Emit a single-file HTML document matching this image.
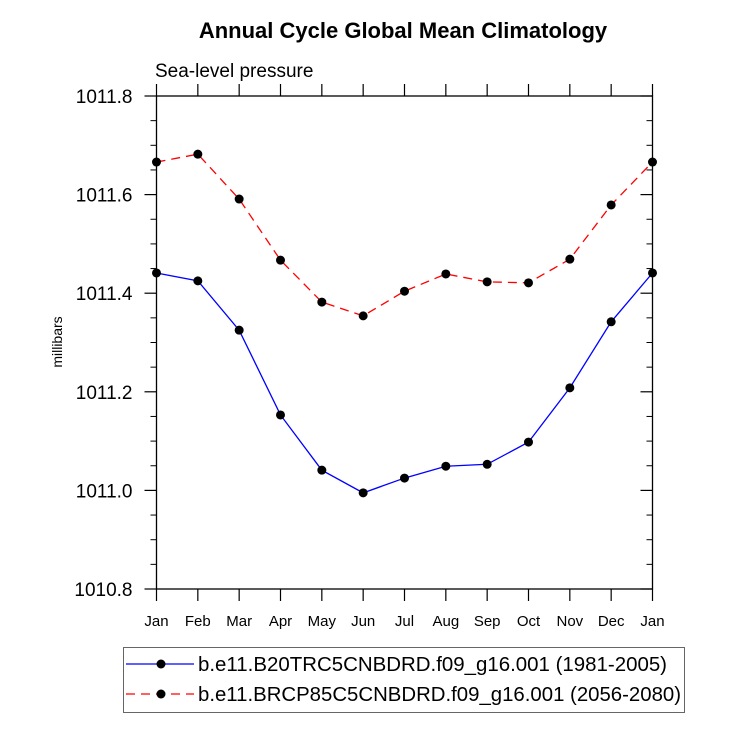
<!DOCTYPE html>
<html><head><meta charset="utf-8"><style>
body{margin:0;background:#fff;}
svg{display:block;font-family:"Liberation Sans",sans-serif;}
</style></head><body>
<svg id="c" width="732" height="732">
<text x="403" y="38" text-anchor="middle" font-size="22" font-weight="bold">Annual Cycle Global Mean Climatology</text>
<text x="155" y="77" font-size="19">Sea-level pressure</text>
<text transform="translate(62,342) rotate(-90)" text-anchor="middle" font-size="14">millibars</text>
<g id="axes"></g>
<g id="series"></g>
<rect x="123.5" y="647.5" width="561" height="65" fill="none" stroke="#666" stroke-width="1"/>
<g>
<line x1="126" y1="664" x2="194" y2="664" stroke="#0000ff" stroke-width="1.3"/>
<circle cx="161" cy="664" r="4.5" fill="#000"/>
<text x="198" y="671" font-size="20" textLength="469" lengthAdjust="spacingAndGlyphs">b.e11.B20TRC5CNBDRD.f09_g16.001 (1981-2005)</text>
</g>
<g>
<line x1="126" y1="694" x2="194" y2="694" stroke="#ff0000" stroke-width="1.3" stroke-dasharray="9,6"/>
<circle cx="161" cy="694" r="4.5" fill="#000"/>
<text x="198" y="701" font-size="20" textLength="483" lengthAdjust="spacingAndGlyphs">b.e11.BRCP85C5CNBDRD.f09_g16.001 (2056-2080)</text>
</g>
</svg>
<script>
const months=["Jan","Feb","Mar","Apr","May","Jun","Jul","Aug","Sep","Oct","Nov","Dec","Jan"];
const histValues=[1011.441,1011.425,1011.325,1011.153,1011.041,1010.995,1011.025,1011.049,1011.053,1011.098,1011.208,1011.342,1011.441];
const rcpValues=[1011.666,1011.682,1011.591,1011.467,1011.382,1011.354,1011.404,1011.439,1011.423,1011.421,1011.469,1011.579,1011.666];
const yTicks=["1010.8","1011.0","1011.2","1011.4","1011.6","1011.8"];
const L=156.5,R=652.5,T=96,B=589,yMin=1010.8,yMax=1011.8;
const NS="http://www.w3.org/2000/svg";
function xs(i){return L+(R-L)*i/(months.length-1);}
function ys(v){return B-(v-yMin)/(yMax-yMin)*(B-T);}
function mk(tag,attrs,parent){const e=document.createElementNS(NS,tag);for(const k in attrs)e.setAttribute(k,attrs[k]);parent.appendChild(e);return e;}
const ax=document.getElementById('axes');
const frame=mk('rect',{x:L,y:T,width:R-L,height:B-T,fill:'none',stroke:'#000','stroke-width':1.3},ax);


for(let i=0;i<months.length;i++){
  const x=xs(i);
  mk('line',{x1:x,y1:B,x2:x,y2:B+12,stroke:'#000','stroke-width':1.2},ax);
  mk('line',{x1:x,y1:T,x2:x,y2:T-12,stroke:'#000','stroke-width':1.2},ax);
  const t=mk('text',{x:x,y:B+37,'text-anchor':'middle','font-size':15},ax);
  t.textContent=months[i];
  
  
}
for(let k=0;k<yTicks.length;k++){
  const v=parseFloat(yTicks[k]),y=ys(v);
  mk('line',{x1:L,y1:y,x2:L-12,y2:y,stroke:'#000','stroke-width':1.2},ax);
  mk('line',{x1:R,y1:y,x2:R-12,y2:y,stroke:'#000','stroke-width':1.2},ax);
  const t=mk('text',{x:L-24,y:y+7,'text-anchor':'end','font-size':19},ax);
  t.textContent=yTicks[k];
  
  
}
for(let v=yMin+0.05;v<yMax-0.01;v+=0.05){
  if(Math.abs((v-yMin)/0.2-Math.round((v-yMin)/0.2))<0.01)continue;
  const y=ys(v);
  mk('line',{x1:L,y1:y,x2:L-6,y2:y,stroke:'#000','stroke-width':1},ax);
  mk('line',{x1:R,y1:y,x2:R-6,y2:y,stroke:'#000','stroke-width':1},ax);
}
const sg=document.getElementById('series');
function draw(vals,color,dash,name){
  const g=mk('g',{},sg);
  
  
  const pts=vals.map((v,i)=>xs(i)+','+ys(v)).join(' ');
  const a={points:pts,fill:'none',stroke:color,'stroke-width':1.3};
  if(dash)a['stroke-dasharray']=dash;
  mk('polyline',a,g);
  vals.forEach((v,i)=>{
    const c=mk('circle',{cx:xs(i),cy:ys(v),r:4.5,fill:'#000'},g);
    
    
  });
}
draw(histValues,'#0000ff',null,'series-hist');
draw(rcpValues,'#ff0000','9,6','series-rcp85');
</script>
</body></html>
